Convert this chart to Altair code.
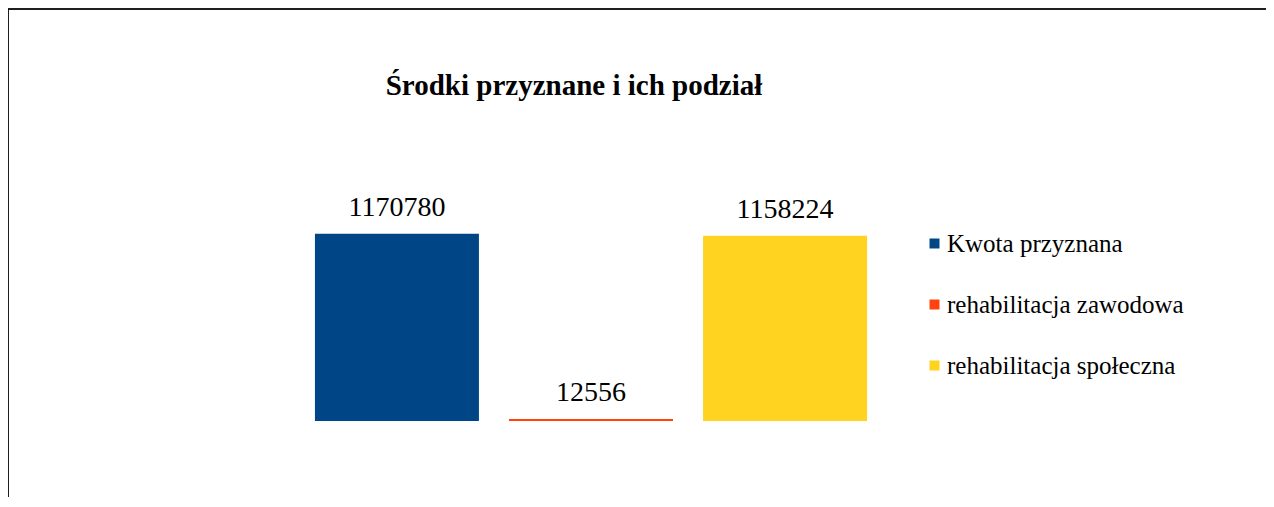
import altair as alt
import pandas as pd

categories = ["Kwota przyznana", "rehabilitacja zawodowa", "rehabilitacja społeczna"]
values = [1170780, 12556, 1158224]
colors = ["#004586", "#ff420e", "#ffd320"]

df = pd.DataFrame({"kat": categories, "val": values})

W, H = 582, 256
FONT = "Liberation Serif"

x = alt.X("kat:N", sort=categories, axis=None,
          scale=alt.Scale(paddingInner=0.155, paddingOuter=0.077))
y = alt.Y("val:Q", axis=None, scale=alt.Scale(domain=[0, 1600000], nice=False, zero=True))

bars = alt.Chart(df).mark_bar().encode(
    x=x, y=y,
    color=alt.Color("kat:N", sort=categories,
                    scale=alt.Scale(domain=categories, range=colors),
                    legend=alt.Legend(title=None, orient="none", legendX=622, legendY=66,
                                      symbolType="square", symbolSize=100, symbolStrokeWidth=0,
                                      labelFont=FONT, labelFontSize=25, labelColor="#000000",
                                      labelLimit=400, rowPadding=35, labelOffset=0)),
)

labels = alt.Chart(df).mark_text(baseline="alphabetic", dy=-18, font=FONT, fontSize=28,
                                 color="#000000").encode(
    x=x, y=y, text=alt.Text("val:Q", format="d"))

frame = alt.Chart(df).mark_rect(fill=None, stroke="#000000", strokeWidth=1).encode(
    x=alt.value(-292), y=alt.value(-156), x2=alt.value(1200), y2=alt.value(600))

chart = alt.layer(frame, bars, labels).properties(
    width=W, height=H,
    autosize=alt.AutoSizeParams(type="none"),
    padding={"left": 292, "top": 157, "right": 384, "bottom": 76},
    title=alt.TitleParams("Środki przyznane i ich podział", font=FONT, fontSize=29,
                          fontWeight="bold", color="#000000", anchor="middle", dx=-17,
                          offset=-92),
).configure_view(stroke=None)

chart.save("out.html", embed_options={"renderer": "svg", "actions": False})
